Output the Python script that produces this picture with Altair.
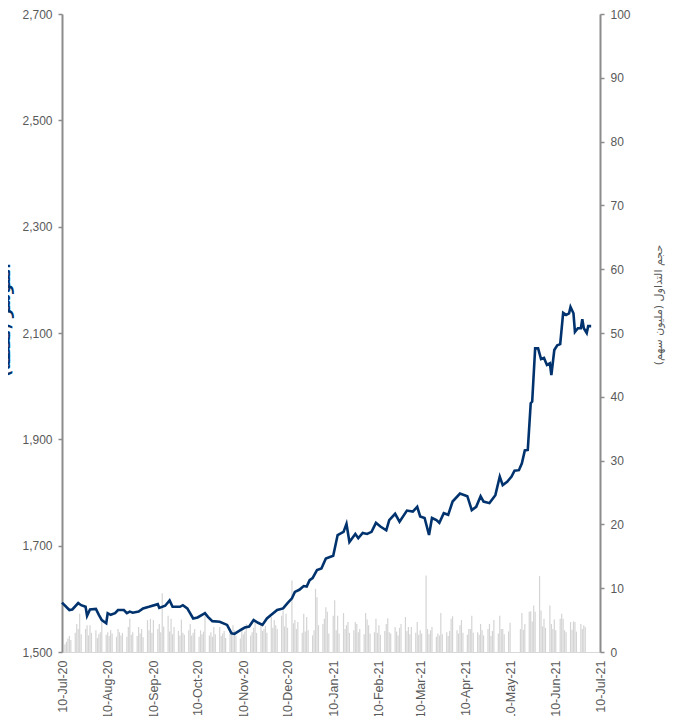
import altair as alt
import pandas as pd

# ---- data ----
# price line: day offset from 10-Jul-2020, index level
price_day = [0, 5, 7, 11, 13, 16, 17, 19, 23, 25, 27, 30, 31, 33, 36, 38, 42, 44, 46, 48,
             52, 55, 59, 65, 66, 70, 73, 75, 80, 82, 85, 89, 92, 97, 99, 102, 107, 112, 115, 117,
             121, 124, 127, 130, 133, 136, 139, 142, 146, 150, 153, 156, 158, 161, 164, 166, 168, 170, 173, 176,
             179, 184, 187, 191, 193, 195, 199, 201, 204, 207, 210, 213, 216, 220, 222, 226, 229, 234, 238, 241,
             243, 246, 249, 251, 254, 256, 259, 262, 265, 270, 275, 278, 281, 284, 286, 290, 294, 297, 299, 302,
             305, 307, 310, 312, 314, 316, 318, 319, 321, 323, 325, 327, 329, 331, 332, 334, 336, 338, 340, 342,
             344, 345, 347, 348, 350, 352, 353, 354, 356, 357, 359]
price_val = [1593, 1579, 1580, 1592, 1588, 1585, 1568, 1580, 1581, 1570, 1560, 1554, 1573, 1570, 1573, 1579, 1579, 1573, 1576, 1574,
             1576, 1582, 1585, 1590, 1583, 1587, 1597, 1585, 1585, 1588, 1582, 1563, 1565, 1573, 1566, 1558, 1557, 1551, 1535, 1534,
             1541, 1546, 1548, 1560, 1555, 1551, 1563, 1570, 1579, 1582, 1592, 1601, 1613, 1617, 1624, 1623, 1635, 1639, 1654, 1657,
             1676, 1681, 1720, 1726, 1741, 1707, 1722, 1714, 1724, 1722, 1726, 1743, 1736, 1729, 1748, 1760, 1745, 1766, 1764, 1773,
             1755, 1752, 1720, 1752, 1748, 1743, 1761, 1758, 1783, 1798, 1793, 1767, 1773, 1793, 1783, 1780, 1795, 1830, 1814, 1820,
             1830, 1841, 1842, 1855, 1879, 1880, 1968, 1971, 2071, 2071, 2051, 2053, 2040, 2043, 2021, 2068, 2077, 2079, 2138, 2134,
             2137, 2149, 2137, 2102, 2109, 2109, 2126, 2109, 2100, 2113, 2113]

# trading volume (million shares), one value per trading day (Sun-Thu) from 12-Jul-2020
vol_val = [1.2, 1.6, 2.1, 2.5, 1.9, 3.0, 4.4, 3.6, 6.0, 2.8,
           3.6, 4.2, 2.6, 4.2, 3.0, 3.4, 2.2, 2.8, 3.1, 5.0,
           2.7, 3.1, 2.5, 3.4, 2.9, 2.4, 3.6, 3.1, 2.6, 3.0,
           2.4, 3.9, 5.2, 2.7, 3.1, 2.5, 3.9, 2.9, 3.6, 2.3,
           5.0, 3.4, 5.2, 3.0, 5.0, 3.6, 4.4, 3.1, 9.2, 4.0,
           5.7, 3.2, 5.2, 2.8, 3.9, 3.3, 2.6, 5.1, 3.0, 2.7,
           3.4, 4.4, 2.6, 3.0, 3.6, 2.4, 3.4, 2.8, 3.2, 6.3,
           2.6, 3.1, 2.4, 3.9, 2.8, 3.9, 2.5, 2.9, 3.3, 2.2,
           3.6, 2.7, 4.2, 3.4, 2.6, 2.1, 3.6, 2.8, 3.2, 4.4,
           2.6, 3.1, 3.8, 4.7, 3.0, 4.4, 3.3, 3.6, 4.1, 3.0,
           5.5, 3.8, 5.0, 4.2, 3.6, 5.7, 6.5, 4.0, 6.0, 3.8,
           11.2, 4.5, 5.0, 3.6, 4.7, 3.0, 6.0, 3.2, 5.5, 3.4,
           2.6, 3.4, 9.9, 8.6, 4.2, 4.4, 5.2, 7.0, 6.3, 2.9,
           5.7, 8.1, 3.4, 5.7, 2.9, 6.1, 3.6, 4.2, 4.7, 3.0,
           3.4, 4.7, 4.4, 3.1, 3.6, 2.8, 6.1, 5.1, 4.2, 2.9,
           3.1, 5.2, 3.0, 4.2, 2.7, 3.3, 4.4, 5.3, 3.1, 2.9,
           3.9, 3.2, 2.6, 3.8, 4.4, 5.5, 3.3, 3.9, 2.8, 3.9,
           3.0, 4.7, 2.7, 3.4, 2.9, 12.0, 3.6, 2.8, 3.4, 3.9,
           2.4, 2.9, 2.6, 6.1, 2.8, 3.1, 2.5, 3.3, 5.2, 5.6,
           3.4, 2.9, 4.2, 5.0, 3.0, 2.7, 3.6, 3.6, 5.7, 3.0,
           3.1, 2.7, 4.4, 3.4, 2.6, 3.6, 4.4, 2.5, 3.3, 5.0,
           2.9, 5.7, 3.6, 3.6, 2.8, 3.2, 4.6, 0, 0, 0,
           0, 3.6, 6.1, 3.5, 4.4, 6.3, 6.4, 4.8, 7.3, 6.3,
           11.9, 6.5, 4.0, 5.2, 3.8, 7.3, 4.4, 3.6, 5.1, 3.4,
           5.2, 6.0, 5.2, 3.4, 3.1, 4.7, 3.5, 4.8, 4.7, 3.2,
           4.4, 3.6, 4.2, 3.9]

left_ticks = [1500, 1700, 1900, 2100, 2300, 2500, 2700]
right_ticks = [0, 10, 20, 30, 40, 50, 60, 70, 80, 90, 100]
x_tick_months = [(2020, 7), (2020, 8), (2020, 9), (2020, 10), (2020, 11), (2020, 12),
                 (2021, 1), (2021, 2), (2021, 3), (2021, 4), (2021, 5), (2021, 6), (2021, 7)]
left_title = "المؤشر (نقطة)"
right_title = "حجم التداول (مليون سهم)"

# ---- tables ----
start = pd.Timestamp("2020-07-10")
price_df = pd.DataFrame({"date": start + pd.to_timedelta(price_day, unit="D"), "price": price_val})
trade_days = pd.bdate_range("2020-07-12", periods=len(vol_val), freq="C",
                            weekmask="Sun Mon Tue Wed Thu")
vol_df = pd.DataFrame({"date": trade_days, "vol": vol_val})

x_vals = [alt.DateTime(year=y, month=m, date=10) for y, m in x_tick_months]
x_scale = alt.Scale(domain=[alt.DateTime(year=2020, month=7, date=10),
                            alt.DateTime(year=2021, month=7, date=10)], padding=0)
x_axis = alt.Axis(values=x_vals, format="%d-%b-%y", labelAngle=-90, labelFontSize=12.5,
                  labelColor="#595959", labelFont="Liberation Sans", ticks=False,
                  domainColor="#d9d9d9", domainWidth=1, labelPadding=8, title=None,
                  grid=False, labelOverlap=False, labelFlush=False)

grey = "#8c8c8c"

bars = alt.Chart(vol_df).mark_bar(size=1.2, color="#d4d4d4").encode(
    x=alt.X("date:T", scale=x_scale, axis=x_axis),
    y=alt.Y("vol:Q", scale=alt.Scale(domain=[0, 100], nice=False),
            axis=alt.Axis(orient="right", values=right_ticks, labelFontSize=12,
                          labelColor="#595959", labelFont="Liberation Sans",
                          domainColor=grey, domainWidth=2, tickColor=grey, tickWidth=1.5,
                          tickSize=4, labelPadding=6, grid=False, title=None)),
)

line = alt.Chart(price_df).mark_line(color="#00336e", strokeWidth=2.6).encode(
    x=alt.X("date:T", scale=x_scale, axis=x_axis),
    y=alt.Y("price:Q", scale=alt.Scale(domain=[1500, 2700], nice=False),
            axis=alt.Axis(orient="left", values=left_ticks, format=",d", labelFontSize=12,
                          labelColor="#595959", labelFont="Liberation Sans",
                          domainColor=grey, domainWidth=2, tickColor=grey, tickWidth=1.5,
                          tickSize=4, labelPadding=6, grid=False, title=None)),
)

ltitle = alt.Chart(pd.DataFrame({"t": [left_title]})).mark_text(
    angle=270, font="DejaVu Sans", fontSize=15, fontWeight="bold", color="#00336e",
    align="center", baseline="middle"
).encode(text="t:N", x=alt.value(-57), y=alt.value(306))

rtitle = alt.Chart(pd.DataFrame({"t": [right_title]})).mark_text(
    angle=270, font="DejaVu Sans", fontSize=11, color="#595959",
    align="center", baseline="middle"
).encode(text="t:N", x=alt.value(597), y=alt.value(291))

chart = alt.layer(bars, line, ltitle, rtitle).resolve_scale(y="independent").properties(
    width=538, height=638,
    padding={"left": 54, "top": 6, "right": 68, "bottom": 72},
    autosize=alt.AutoSizeParams(type="none"),
).configure_view(stroke=None)

chart.save("out.html", embed_options={"renderer": "svg", "actions": False})
